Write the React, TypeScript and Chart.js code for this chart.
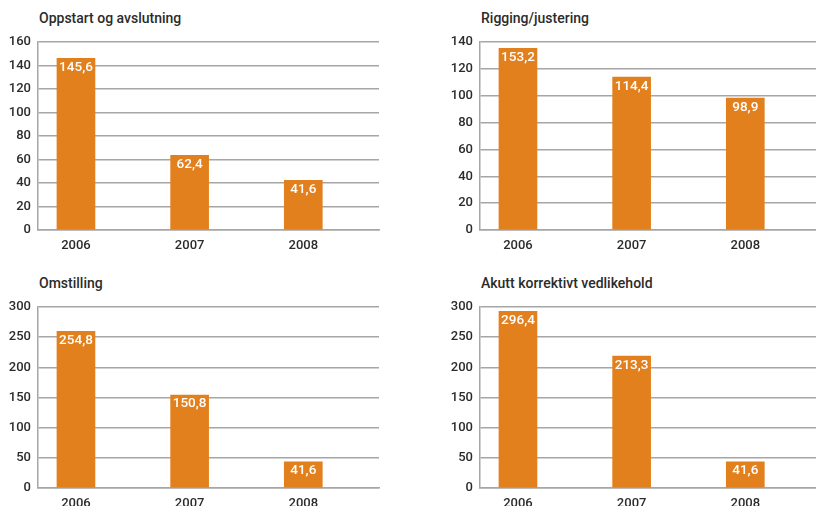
import React, { useEffect, useRef } from "react";
import { Chart, registerables } from "chart.js";

Chart.register(...registerables);

const years = ["2006", "2007", "2008"];

const oppstartTitle = "Oppstart og avslutning";
const oppstartValues = [146, 63.5, 42.3];
const oppstartLabels = ["145,6", "62,4", "41,6"];

const riggingTitle = "Rigging/justering";
const riggingValues = [135.3, 113.8, 98.2];
const riggingLabels = ["153,2", "114,4", "98,9"];

const omstillingTitle = "Omstilling";
const omstillingValues = [259.8, 154, 43.5];
const omstillingLabels = ["254,8", "150,8", "41,6"];

const akuttTitle = "Akutt korrektivt vedlikehold";
const akuttValues = [292.8, 218.5, 43.5];
const akuttLabels = ["296,4", "213,3", "41,6"];

const FONT = "Roboto, 'DejaVu Sans', sans-serif";
const BAR_COLOR = "#e3801e";
const GRID_COLOR = "#a6a6a6";
const TEXT_COLOR = "#2b2b2b";

type PanelProps = {
  title: string;
  values: number[];
  labels: string[];
  yMax: number;
  yStep: number;
  left: number;
  top: number;
  height: number;
  titleTop: number;
};

function Panel({ title, values, labels, yMax, yStep, left, top, height, titleTop }: PanelProps) {
  const ref = useRef<HTMLCanvasElement | null>(null);

  useEffect(() => {
    if (!ref.current) return;
    const valueLabels = {
      id: "valueLabels",
      afterDatasetsDraw(chart: any) {
        const meta = chart.getDatasetMeta(0);
        const ctx = chart.ctx;
        ctx.save();
        ctx.font = `500 13.5px ${FONT}`;
        ctx.fillStyle = "#ffffff";
        ctx.textAlign = "center";
        ctx.textBaseline = "middle";
        meta.data.forEach((bar: any, i: number) => {
          ctx.fillText(labels[i], bar.x, bar.y + 9);
        });
        ctx.restore();
      },
    };

    const chart = new Chart(ref.current, {
      type: "bar",
      data: {
        datasets: [
          {
            data: values.map((v, i) => ({ x: i, y: v })),
            backgroundColor: BAR_COLOR,
            borderWidth: 0,
            barThickness: 38,
          },
        ],
      },
      options: {
        animation: false,
        responsive: false,
        maintainAspectRatio: false,
        layout: { padding: { top: 6, right: 1, left: 0, bottom: 0 } },
        plugins: {
          legend: { display: false },
          tooltip: { enabled: false },
          title: { display: false },
        },
        scales: {
          x: {
            type: "linear",
            min: -0.334,
            max: 2.666,
            offset: false,
            grid: { display: false, drawTicks: false },
            border: { display: true, color: GRID_COLOR, width: 1.5 },
            afterBuildTicks: (scale: any) => {
              scale.ticks = years.map((_, i) => ({ value: i }));
            },
            afterFit: (scale: any) => {
              scale.height = 24;
              scale.paddingLeft = 0;
              scale.paddingRight = 0;
            },
            ticks: {
              padding: 8,
              color: TEXT_COLOR,
              font: { family: FONT, size: 13, weight: "500" },
              callback: (v: any) => years[Math.round(Number(v))] ?? "",
            },
          },
          y: {
            min: 0,
            max: yMax,
            grid: { color: GRID_COLOR, lineWidth: 1.5, drawTicks: false },
            border: { display: true, color: GRID_COLOR, width: 1.5 },
            afterFit: (scale: any) => {
              scale.width = 38;
              scale.paddingTop = 0;
              scale.paddingBottom = 0;
            },
            ticks: {
              stepSize: yStep,
              padding: 7,
              color: TEXT_COLOR,
              font: { family: FONT, size: 13, weight: "500" },
            },
          },
        },
      },
      plugins: [valueLabels],
    });
    return () => chart.destroy();
  }, [values, labels, yMax, yStep]);

  return (
    <>
      <div
        style={{
          position: "absolute",
          left: left + 39,
          top: titleTop,
          fontFamily: FONT,
          fontSize: 14,
          fontWeight: 500,
          lineHeight: "16px",
          color: TEXT_COLOR,
          whiteSpace: "nowrap",
        }}
      >
        {title}
      </div>
      <canvas
        ref={ref}
        width={380}
        height={height}
        style={{ position: "absolute", left, top, width: 380, height }}
      />
    </>
  );
}

export default function App() {
  return (
    <div
      style={{
        position: "fixed",
        left: 0,
        top: 0,
        width: 816,
        height: 506,
        overflow: "hidden",
        background: "#ffffff",
      }}
    >
      <Panel title={oppstartTitle} values={oppstartValues} labels={oppstartLabels} yMax={160} yStep={20}
        left={0} top={36} height={218} titleTop={10} />
      <Panel title={riggingTitle} values={riggingValues} labels={riggingLabels} yMax={140} yStep={20}
        left={442} top={36} height={218} titleTop={10} />
      <Panel title={omstillingTitle} values={omstillingValues} labels={omstillingLabels} yMax={300} yStep={50}
        left={0} top={301} height={211} titleTop={275} />
      <Panel title={akuttTitle} values={akuttValues} labels={akuttLabels} yMax={300} yStep={50}
        left={442} top={301} height={211} titleTop={275} />
    </div>
  );
}
